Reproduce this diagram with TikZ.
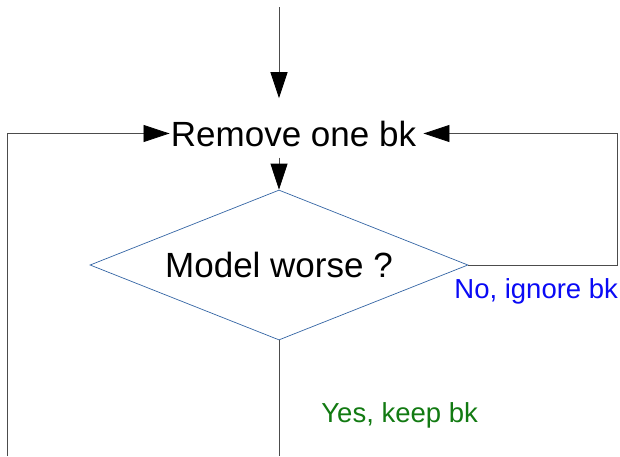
\documentclass[tikz,border=0pt]{standalone}
\usepackage{fontspec}
\setmainfont{Liberation Sans}
\usetikzlibrary{positioning,shapes.geometric,arrows.meta}
\definecolor{diablue}{HTML}{3465A4}
\definecolor{yesgreen}{HTML}{127A12}
\definecolor{noblue}{HTML}{0A0AF5}
\begin{document}
\begin{tikzpicture}[x=1pt, y=-1pt, thick,
    line width=0.8pt,
    arr/.style = {draw=black!70, -{Triangle[length=26pt,width=17pt,color=black]}},
    big/.style = {inner sep=0pt, font=\fontsize{35}{38}\selectfont},
    test/.style = {draw=diablue, line width=0.7pt, diamond, aspect=2.52, inner sep=0pt,
        minimum width=378pt, minimum height=150pt, font=\fontsize{35}{38}\selectfont},
    answer/.style = {inner sep=0pt, anchor=base west, font=\fontsize{27.5}{30}\selectfont}]
        \useasboundingbox (0,0) rectangle (620,456);
        % Nodes
        \node[big, anchor=base] (remove) at (293.5,146) {Remove one bk};
        \node[test] (worse) at (279,265) {Model worse ?};
        \node[answer, text=noblue] (no) at (454,298) {No, ignore bk};
        \node[answer, text=yesgreen] (yes) at (321,422) {Yes, keep bk};
        \coordinate (start) at (279,7);
        \coordinate (back) at (7,456);
        \coordinate (out) at (279,456);
        % Edges
        \draw[arr, shorten >=22pt] (start) -- (start |- remove.north);
        \draw[arr, shorten <=11pt] (remove.south -| start) -- (worse.north);
        \draw[arr, shorten >=1pt] (back) |- (remove.west);
        \draw[arr, shorten >=7pt] (worse.east) -- ++(149,0) |- (remove.east);
        \draw[black!70] (worse.south) -- (out);
    \end{tikzpicture}
\end{document}
